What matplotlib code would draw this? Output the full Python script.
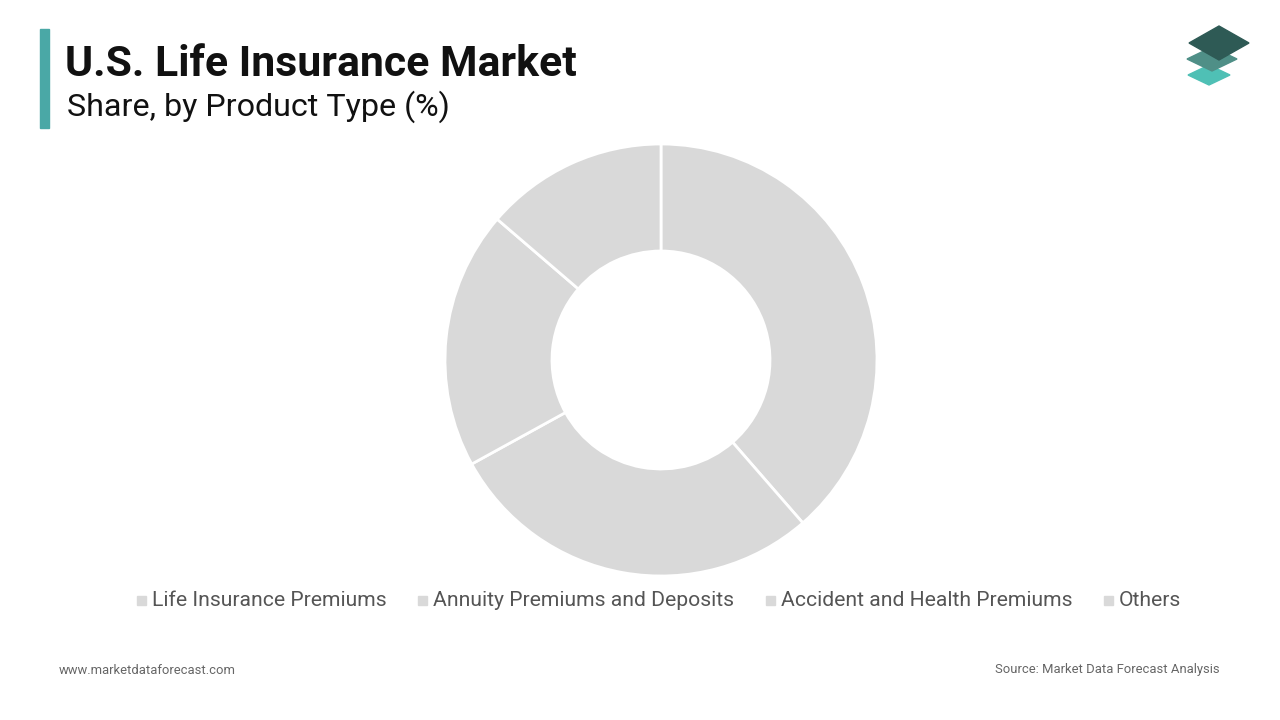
import matplotlib
matplotlib.use("Agg")
import matplotlib.pyplot as plt
from matplotlib.patches import Polygon, Rectangle

categories = ["Life Insurance Premiums", "Annuity Premiums and Deposits",
              "Accident and Health Premiums", "Others"]
values = [38.6, 28.4, 19.3, 13.7]

plt.rcParams['font.family'] = ['Roboto', 'DejaVu Sans']
fig = plt.figure(figsize=(12.8, 7.2), dpi=100)

ax = fig.add_axes([(661-216)/1280, 1-(360+216)/720, 432/1280, 432/720])
ax.pie(values, startangle=90, counterclock=False, colors=["#d9d9d9"]*4,
       wedgeprops=dict(width=107/216, edgecolor="white", linewidth=2))
ax.set_aspect('equal')
ax.set_xlim(-1, 1); ax.set_ylim(-1, 1)
ax.axis('off')

fig.patches.append(Rectangle((40/1280, 1-128/720), 9/1280, 99/720,
                             transform=fig.transFigure, color="#4aa8a6"))
fig.text(65/1280, 1-65/720, "U.S. Life Insurance Market", fontsize=30.8,
         fontweight='bold', va='center', color="#111111")
fig.text(67/1280, 1-107/720, "Share, by Product Type (%)", fontsize=23.2,
         va='center', color="#111111")

# legend
xs = [137, 418, 766, 1104]
for x, c in zip(xs, categories):
    fig.patches.append(Rectangle((x/1280, 1-605/720), 9/1280, 9/720,
                                 transform=fig.transFigure, color="#d9d9d9"))
    fig.text((x+15)/1280, 1-600/720, c, fontsize=15.2, va='center', color="#555555")

fig.text(59/1280, 1-670/720, "www.marketdataforecast.com", fontsize=9.4,
         va='center', color="#666666")
fig.text(1220/1280, 1-670/720, "Source: Market Data Forecast Analysis",
         fontsize=9.4, va='center', ha='right', color="#666666")

# logo
def dia(cx, cy, w, h, col):
    pts = [(cx, cy+h), (cx+w, cy), (cx, cy-h), (cx-w, cy)]
    fig.patches.append(Polygon([(x/1280, 1-y/720) for x, y in pts],
                               transform=fig.transFigure, color=col))
dia(1209, 75, 21, 10, "#4fc0b5")
dia(1212, 59, 25, 12, "#4f8f87")
dia(1219, 43, 30, 17, "#2e5a55")

fig.savefig("out.png", dpi=100, facecolor="white")
